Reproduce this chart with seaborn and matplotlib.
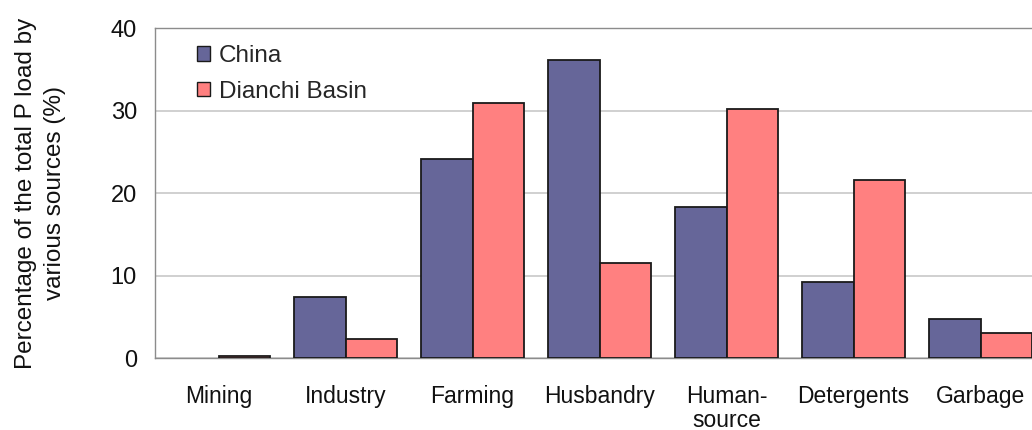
import matplotlib
matplotlib.use("Agg")
import matplotlib.pyplot as plt
import seaborn as sns
import pandas as pd
import numpy as np
from matplotlib.ticker import FixedLocator

sources = ["Mining", "Industry", "Farming", "Husbandry", "Human-\nsource", "Detergents", "Garbage"]
china = [0.0, 7.4, 24.2, 36.1, 18.4, 9.2, 4.8]
dianchi = [0.3, 2.3, 31.0, 11.5, 30.2, 21.6, 3.1]
series = ["China", "Dianchi Basin"]
colors = ["#666699", "#FF8080"]

df = pd.DataFrame({
    "source": sources * 2,
    "value": china + dianchi,
    "region": [series[0]] * len(sources) + [series[1]] * len(sources),
})

sns.set_theme(style="white")
plt.rcParams["font.family"] = ["Liberation Sans", "DejaVu Sans"]

fig = plt.figure(figsize=(10.32, 4.30), dpi=100)
ax = fig.add_axes([155 / 1032, (430 - 358.3) / 430, 889 / 1032, 330 / 430])

sns.barplot(data=df, x="source", y="value", hue="region", order=sources,
            hue_order=series, palette=colors, width=0.81, edgecolor="#1a1a1a",
            linewidth=1.3, saturation=1, ax=ax, zorder=3)

# a source with no load gets no visible bar outline
for container in ax.containers:
    for bar in container:
        if bar.get_height() == 0:
            bar.set_visible(False)

ax.set_ylim(0, 40)
ax.set_xlim(-0.5, len(sources) - 0.5)
ax.set_yticks([0, 10, 20, 30, 40])
ax.yaxis.grid(True, color="#c8c8c8", linewidth=1.2, zorder=0)
ax.set_axisbelow(True)
for s in ax.spines.values():
    s.set_color("#8c8c8c")
    s.set_linewidth(1.0)

ax.tick_params(axis="y", length=0, pad=13, labelsize=17, colors="#111111")
ax.tick_params(axis="x", which="major", length=0, pad=19, labelsize=16.5, colors="#111111")
ax.xaxis.set_minor_locator(FixedLocator(np.arange(0.5, len(sources) - 0.5, 1)))
ax.tick_params(axis="x", which="minor", direction="in", length=7, color="#8c8c8c", width=1)
for lbl in ax.get_xticklabels():
    lbl.set_linespacing(1.05)

ax.set_xlabel("")
ax.set_ylabel("Percentage of the total P load by\nvarious sources (%)", fontsize=17.5,
              color="#111111", labelpad=32, linespacing=1.4)

leg = ax.legend(loc="upper left", bbox_to_anchor=(0.036, 0.978), frameon=False,
                fontsize=17.5, handlelength=0.55, handleheight=0.55, handletextpad=0.35,
                labelspacing=0.55, borderaxespad=0)
for h in leg.legend_handles:
    h.set_visible(True)
    h.set_edgecolor("#1a1a1a")
    h.set_linewidth(1.0)

fig.savefig("out.png", dpi=100)
